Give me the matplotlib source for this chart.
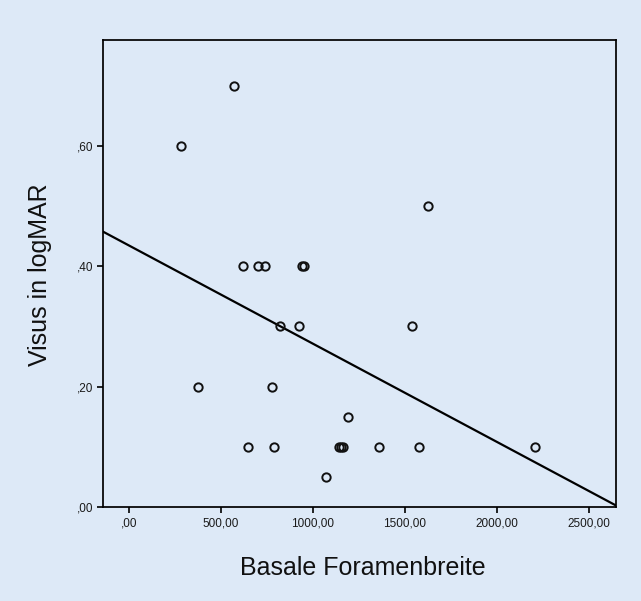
import matplotlib
matplotlib.use("Agg")
import matplotlib.pyplot as plt
from matplotlib.ticker import FuncFormatter
import numpy as np

plt.rcParams['font.family'] = ['Liberation Sans', 'DejaVu Sans']

# Data (Basale Foramenbreite vs. Visus in logMAR)
foramen = [572, 281, 1625,
           618, 703, 737, 939, 949,
           821, 922, 1538,
           377, 779,
           1190,
           649, 788, 1143, 1152, 1165, 1360, 1576, 2208,
           1069]
visus = [0.70, 0.60, 0.50,
         0.40, 0.40, 0.40, 0.40, 0.40,
         0.30, 0.30, 0.30,
         0.20, 0.20,
         0.15,
         0.10, 0.10, 0.10, 0.10, 0.10, 0.10, 0.10, 0.10,
         0.05]

# Fit line
fit_intercept = 0.4345
fit_slope = -0.0001632

x_ticks = [0, 500, 1000, 1500, 2000, 2500]
y_ticks = [0.0, 0.2, 0.4, 0.6]
x_label = "Basale Foramenbreite"
y_label = "Visus in logMAR"

bg = "#dde9f7"

def de_fmt(v, pos=None):
    s = f"{v:.2f}".replace('.', ',')
    if s.startswith("0,"):
        s = s[1:]
    return s

fig = plt.figure(figsize=(6.41, 6.01), dpi=100, facecolor=bg)
ax = fig.add_axes([0.160, 0.1564, 0.801, 0.777])
ax.set_facecolor(bg)

xmin, xmax = -144, 2647
ax.set_xlim(xmin, xmax)
ax.set_ylim(0, 0.776)

xs = np.array([xmin, xmax])
ax.plot(xs, fit_intercept + fit_slope * xs, color="#000000", lw=1.6,
        solid_capstyle="butt", clip_on=True, zorder=2)

ax.plot(foramen, visus, linestyle="none", marker="o", markersize=6.0,
        markerfacecolor="none", markeredgecolor="#111111", markeredgewidth=1.4,
        zorder=3)

ax.set_xticks(x_ticks)
ax.set_yticks(y_ticks)
ax.xaxis.set_major_formatter(FuncFormatter(de_fmt))
ax.yaxis.set_major_formatter(FuncFormatter(de_fmt))
ax.tick_params(axis="both", direction="out", length=4.5, width=1.2,
               color="#000000", labelsize=8.5, labelcolor="#1a1a1a")
ax.tick_params(axis="x", pad=3)
ax.tick_params(axis="y", pad=2)

for sp in ax.spines.values():
    sp.set_color("#000000")
    sp.set_linewidth(1.25)

fig.text(0.566, 1 - 568 / 601, x_label, ha="center", va="center",
         fontsize=18, color="#111111")
fig.text(40 / 641, 1 - 275 / 601, y_label, ha="center", va="center",
         rotation=90, fontsize=18, color="#111111")

fig.savefig("out.png", dpi=100, facecolor=bg)
